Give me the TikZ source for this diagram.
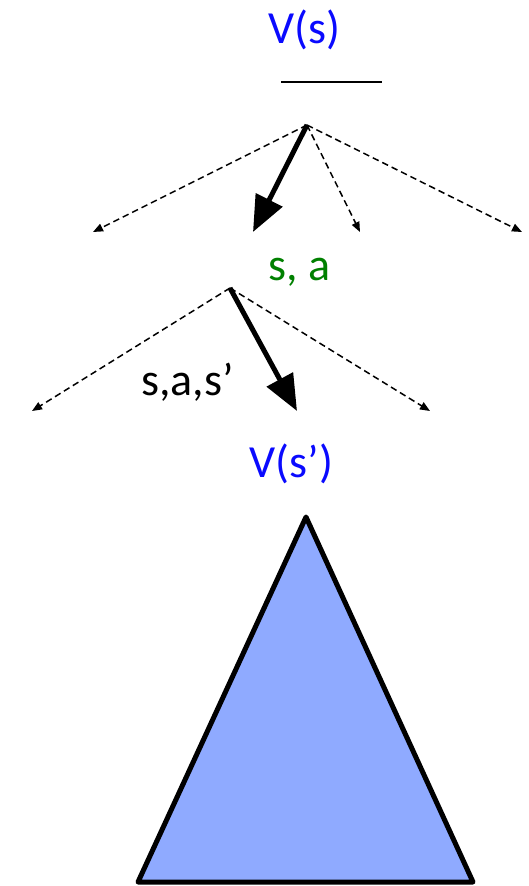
\documentclass[tikz,border=0pt]{standalone}
\usepackage{fontspec}
\setmainfont{Carlito}
\usetikzlibrary{arrows.meta}
\definecolor{vblue}{RGB}{10,10,255}
\definecolor{qgreen}{RGB}{0,128,0}
\definecolor{trifill}{RGB}{143,170,255}
\tikzset{
  lbl/.style={inner sep=0pt, anchor=base, font=\fontsize{46}{55}\selectfont},
  dasharrow/.style={line width=1.5pt, dash pattern=on 6.5pt off 4pt, -{Triangle[length=10pt,width=8pt]}},
  thickarrow/.style={line width=5pt, -{Triangle[length=36pt,width=29pt]}},
}
\begin{document}
\begin{tikzpicture}[x=1pt,y=-1pt]
\useasboundingbox (0,0) rectangle (529,886);
% labels
\node[lbl, text=vblue] (vs) at (304.5,43) {V(s)};
\node[lbl, text=qgreen] (sa) at (299.5,280) {s, a};
\node[lbl] (sas) at (187.5,395) {s,a,s’};
\node[lbl, text=vblue] (vsp) at (291.5,477) {V(s’)};
% max bar
\coordinate (barL) at (281,82);
\coordinate (barR) at (382,82);
\draw[line width=2pt] (barL) -- (barR);
% first level
\coordinate (r) at (307,125);
\coordinate (a1) at (93,232);
\coordinate (a2) at (253,232);
\coordinate (a3) at (360,232);
\coordinate (a4) at (522,232);
\draw[dasharrow] (r) -- (a1);
\draw[dasharrow] (r) -- (a3);
\draw[dasharrow] (r) -- (a4);
\draw[thickarrow] (r) -- (a2);
% second level
\coordinate (q) at (230,288);
\coordinate (b1) at (32,411);
\coordinate (b2) at (297,411);
\coordinate (b3) at (430,411);
\draw[dasharrow] (q) -- (b1);
\draw[dasharrow] (q) -- (b3);
\draw[thickarrow] (q) -- (b2);
% subtree triangle
\coordinate (t1) at (306,517);
\coordinate (t2) at (138,882);
\coordinate (t3) at (473,882);
\draw[line width=5pt, fill=trifill, line join=round] (t1) -- (t2) -- (t3) -- cycle;
\end{tikzpicture}
\end{document}
